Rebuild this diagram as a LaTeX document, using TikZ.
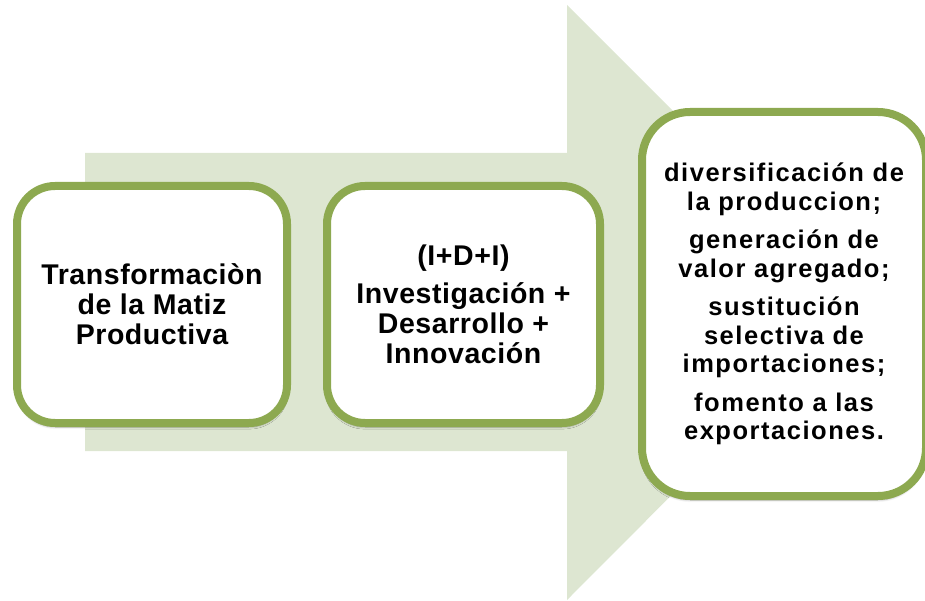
\documentclass[tikz,border=0pt]{standalone}
\usepackage{fontspec}
\setmainfont{Liberation Sans}
\newfontfamily\boxfont[LetterSpace=2]{Liberation Sans}
\newfontfamily\boxfontw[LetterSpace=6]{Liberation Sans}
\usetikzlibrary{shadows.blur}
\definecolor{arrowfill}{RGB}{221,230,209}
\definecolor{boxline}{RGB}{141,169,80}
\begin{document}
\begin{tikzpicture}[x=1pt,y=-1pt,
  stagebox/.style={draw=boxline, line width=8pt, fill=white, rounded corners=38pt,
    align=center, inner sep=0pt,
    blur shadow={shadow xshift=0pt, shadow yshift=-4pt, shadow opacity=35, shadow blur steps=6}},
  bigtext/.style={font=\boxfont\bfseries\fontsize{28.5}{30}\selectfont},
  smalltext/.style={font=\boxfontw\bfseries\fontsize{25.5}{28.5}\selectfont}
]
\useasboundingbox (0,0) rectangle (925,601);
\fill[arrowfill] (85,153) -- (567,153) -- (567,5) -- (864,302) -- (567,600) -- (567,451) -- (85,451) -- cycle;
\node[stagebox, bigtext, minimum width=270pt, minimum height=237pt] (b1) at (152,304.5)
  {Transformaciòn\\ de la Matiz\\ Productiva};
\node[stagebox, bigtext, minimum width=273pt, minimum height=237pt] (b2) at (463.5,304.5)
  {(I+D+I)\\[8pt] Investigación +\\ Desarrollo +\\ Innovación};
\node[stagebox, smalltext, minimum width=284pt, minimum height=384pt, rounded corners=48pt] (b3) at (784,304)
  {diversificación de\\ la produccion;\\[10pt] generación de\\ valor agregado;\\[10pt] sustitución\\ selectiva de\\ importaciones;\\[10pt] fomento a las\\ exportaciones.};
\end{tikzpicture}
\end{document}
